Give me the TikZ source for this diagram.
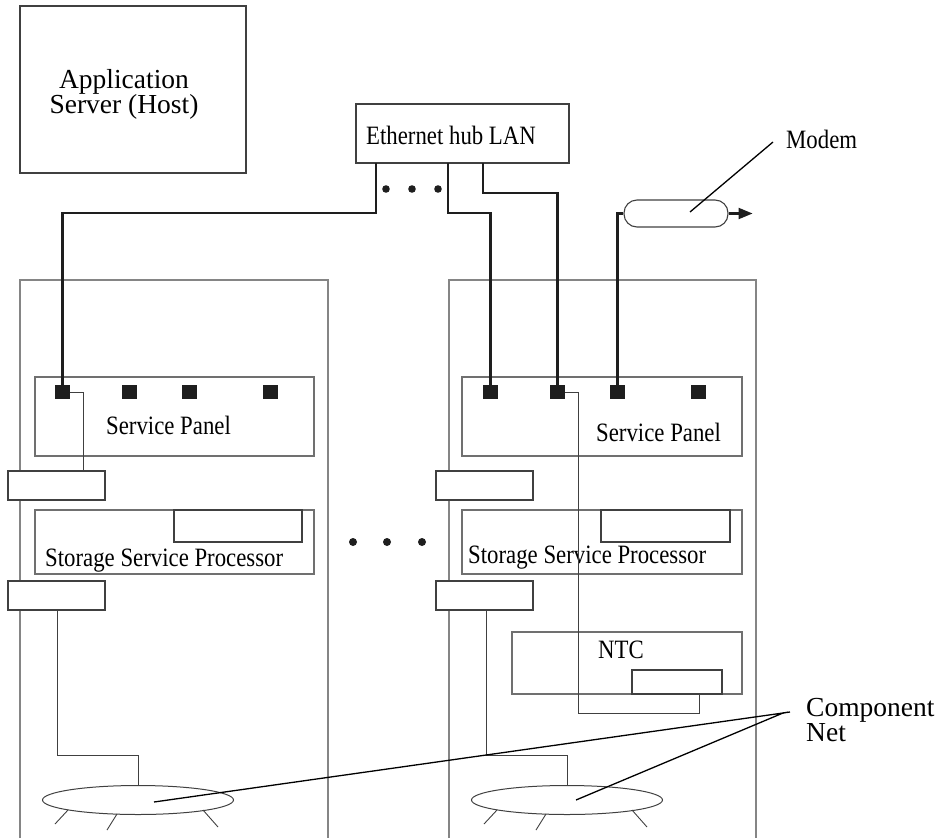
\documentclass[tikz,border=0pt]{standalone}
\usepackage{fontspec}
\setmainfont{Liberation Serif}
\newfontfamily\condfont[FakeStretch=0.86]{Liberation Serif}
\usetikzlibrary{shapes.geometric,arrows.meta,calc}
\definecolor{cabgray}{HTML}{858585}
\definecolor{boxgray}{HTML}{707070}
\definecolor{darkline}{HTML}{404040}
\definecolor{netblack}{HTML}{1E1E1E}
\begin{document}
\begin{tikzpicture}[x=1pt,y=-1pt,
  box/.style={draw=boxgray, line width=1.1pt, fill=white, inner sep=0pt, outer sep=0pt, anchor=north west, rectangle},
  smallbox/.style={box, draw=darkline, minimum width=97, minimum height=29},
  port/.style={fill=netblack, inner sep=0pt, outer sep=0pt, anchor=north west, minimum width=15, minimum height=14},
  cab/.style={draw=cabgray, line width=1.2pt},
  net/.style={draw=netblack, line width=2.1pt},
  wire/.style={draw=darkline, line width=1pt},
  ptr/.style={draw=black, line width=1.3pt},
  tick/.style={draw=darkline, line width=0.9pt},
  ring/.style={ellipse, draw=darkline, line width=1pt, fill=white, inner sep=0pt, minimum width=191, minimum height=29},
  cond/.style={font=\condfont\fontsize{26.5}{28}\selectfont, inner sep=0pt, anchor=base west},
  wide/.style={font=\fontsize{27.5}{25}\selectfont, inner sep=0pt, align=center},
  dot/.style={fill=netblack}
]
\useasboundingbox (0,0) rectangle (950,838);

% cabinets
\draw[cab] (20,838) |- (328,280) -- (328,838);
\draw[cab] (449,838) |- (756,280) -- (756,838);

% top boxes
\node[box, draw=darkline, minimum width=226, minimum height=167] (app) at (20,6) {};
\node[wide, anchor=north] (apptext) at (124,69) {Application\\Server (Host)};
\node[box, draw=darkline, minimum width=213, minimum height=59] (hub) at (356,104) {};
\node[cond] (hubtext) at (366,144) {Ethernet hub LAN};

% left cabinet contents
\node[box, minimum width=279, minimum height=79] (lsp) at (35,377) {};
\node[cond] (lsptext) at (106,434) {Service Panel};
\node[smallbox] (lsb1) at (8,471) {};
\node[box, minimum width=279, minimum height=64] (lssp) at (35,510) {};
\node[box, draw=darkline, minimum width=128, minimum height=32] (lsspin) at (174,510) {};
\node[cond] (lssptext) at (45,566) {Storage Service Processor};
\node[smallbox] (lsb2) at (8,581) {};
\node[ring] (lnet) at (138,800) {};

\node[port] (lp1) at (55,385) {};
\node[port] (lp2) at (122,385) {};
\node[port] (lp3) at (182,385) {};
\node[port] (lp4) at (263,385) {};

% right cabinet contents
\node[box, minimum width=280, minimum height=79] (rsp) at (462,377) {};
\node[cond] (rsptext) at (596,441) {Service Panel};
\node[smallbox] (rsb1) at (436,471) {};
\node[box, minimum width=280, minimum height=64] (rssp) at (462,510) {};
\node[box, draw=darkline, minimum width=129, minimum height=32] (rsspin) at (601,510) {};
\node[cond] (rssptext) at (468,563) {Storage Service Processor};
\node[smallbox] (rsb2) at (436,581) {};
\node[box, minimum width=230, minimum height=62] (ntc) at (512,632) {};
\node[cond] (ntctext) at (598,658) {NTC};
\node[box, draw=darkline, minimum width=90, minimum height=24] (ntcin) at (632,670) {};
\node[ring] (rnet) at (567,800) {};

\node[port] (rp1) at (483,385) {};
\node[port] (rp2) at (550,385) {};
\node[port] (rp3) at (610,385) {};
\node[port] (rp4) at (691,385) {};

% modem
\node[draw=darkline, line width=1.1pt, rounded corners=13pt, inner sep=0pt, minimum width=104, minimum height=27] (modem) at (676,213.5) {};
\node[cond] (modemtext) at (786,148) {Modem};
\coordinate (modemtip) at (773,142);

% component net label
\node[wide, align=left, anchor=north west] (cnettext) at (806,698.5) {Component\\Net};
\coordinate (cnetapex) at (783,713);

% network lines
\draw[net] ([xshift=20]hub.south west) -- ++(0,50) -| (lp1.north);
\draw[net] ([xshift=92]hub.south west) -- ++(0,50) -| (rp1.north);
\draw[net] ([xshift=127]hub.south west) -- ++(0,30) -| (rp2.north);
\draw[net] (rp3.north) |- (modem.west);
\draw[net, -{Triangle[length=14pt,width=11pt]}] (modem.east) -- ++(24,0);

% dots
\fill[dot] (386,189) circle (3.8) (412,189) circle (3.8) (438,189) circle (3.8);
\fill[dot] (353,542) circle (4) (387,542) circle (4) (422,542) circle (4);

% internal wires
\draw[wire] (lp1.east) -| ([xshift=75]lsb1.north west);
\coordinate (rbend) at (578,713);
\draw[wire] (rp2.east) -| (rbend) -| ([xshift=67]ntcin.south west);
\draw[wire] ([xshift=49]lsb2.south west) |- ($(lnet.north)+(0,-30)$) -- (lnet.north);
\draw[wire] ([xshift=50]rsb2.south west) |- ($(rnet.north)+(0,-30)$) -- (rnet.north);

% ticks
\foreach \n in {lnet,rnet}{
  \draw[tick] ($(\n)+(-70,10)$) -- ($(\n)+(-83,24)$);
  \draw[tick] ($(\n)+(-21,14)$) -- ($(\n)+(-31,30)$);
  \draw[tick] ($(\n)+(65,10)$) -- ($(\n)+(80,27)$);
}

% pointers
\draw[ptr] ($(modem.center)+(14,-1.5)$) -- (modemtip);
\draw[ptr] ($(lnet)+(16,2)$) -- (cnetapex) -- ($(rnet)+(9,0)$);
\draw[ptr] (cnetapex) -- ++(7,-1);
\end{tikzpicture}
\end{document}
